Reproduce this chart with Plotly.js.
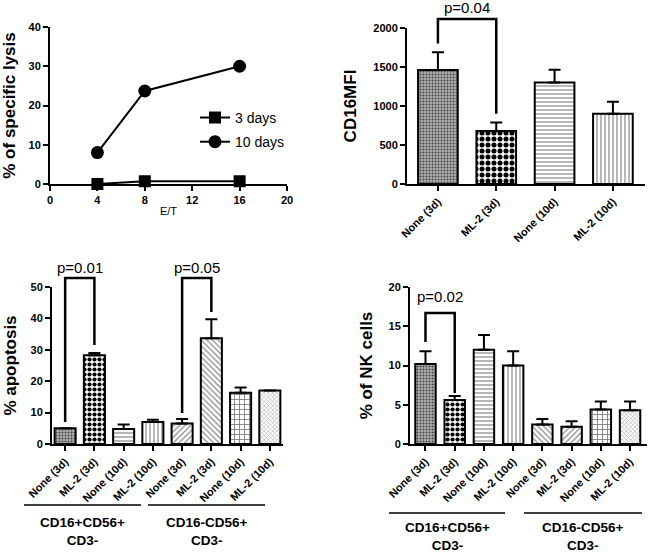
<!DOCTYPE html>
<html><head><meta charset="utf-8">
<script src="https://cdn.plot.ly/plotly-3.0.1.min.js"></script>
<style>html,body{margin:0;padding:0;background:#fff}#chart{width:650px;height:560px}</style>
</head><body><div id="chart"></div>
<script>
// ---- Data ----
const etRatio = [4, 8, 16];
const lysis3d = [0, 0.7, 0.7];
const lysis10d = [8, 23.7, 30];

const condLabels = ['None (3d)', 'ML-2 (3d)', 'None (10d)', 'ML-2 (10d)'];
const cd16Mfi = [1460, 680, 1300, 900];
const cd16MfiErr = [230, 110, 165, 155];

const condLabels8 = condLabels.concat(condLabels);
const apoptosis = [5, 28.3, 4.8, 7, 6.5, 33.7, 16.3, 17];
const apoptosisErr = [0, 0.7, 1.4, 0.7, 1.5, 6, 1.7, 0];

const nkCells = [10.2, 5.6, 12, 10, 2.5, 2.2, 4.4, 4.3];
const nkCellsErr = [1.6, 0.5, 1.9, 1.8, 0.7, 0.7, 1.0, 1.1];

const groupLabels = ['CD16+CD56+<br>CD3-', 'CD16-CD56+<br>CD3-'];

// ---- Styles ----
const FONT = 'Liberation Sans, Arial, sans-serif';
const tickFont = {family: FONT, size: 11, color: '#000', weight: 'bold'};
const titleFont = {family: FONT, size: 17, color: '#000', weight: 'bold'};
const idx4 = condLabels.map((_, i) => i);
const idx8 = condLabels8.map((_, i) => i);

const pat4 = {
  shape: ['.', '.', '-', '|'],
  fgcolor: ['#444', '#000', '#888', '#888'],
  bgcolor: ['#b0b0b0', '#fff', '#fff', '#fff'],
  size: [3, 6, 4, 4],
  solidity: [0.35, 0.55, 0.3, 0.3],
  fillmode: 'replace'
};
const pat8 = {
  shape: ['.', '.', '-', '|', '/', '\\', '+', 'x'],
  fgcolor: ['#444', '#000', '#888', '#888', '#888', '#888', '#777', '#999'],
  bgcolor: ['#b0b0b0', '#fff', '#fff', '#fff', '#fff', '#fff', '#fff', '#fff'],
  size: [3, 5, 4, 4, 4, 4, 5, 3],
  solidity: [0.35, 0.55, 0.3, 0.3, 0.3, 0.3, 0.3, 0.3],
  fillmode: 'replace'
};
const pat8d = JSON.parse(JSON.stringify(pat8));
pat8d.shape = ['.', '.', '-', '|', '\\', '/', '+', 'x'];

function errY(arr) {
  return {type: 'data', array: arr, arrayminus: arr.map(() => 0), symmetric: false,
          color: '#000', thickness: 2, width: 6};
}

const traces = [
  {x: etRatio, y: lysis3d, name: '3 days', legendgroup: 'a', mode: 'lines+markers', xaxis: 'x', yaxis: 'y',
   line: {color: '#000', width: 2}, marker: {symbol: 'square', size: 12, color: '#000'}, cliponaxis: false},
  {x: etRatio, y: lysis10d, name: '10 days', legendgroup: 'b', mode: 'lines+markers', xaxis: 'x', yaxis: 'y',
   line: {color: '#000', width: 2}, marker: {symbol: 'circle', size: 13, color: '#000'}, cliponaxis: false},
  {type: 'bar', x: idx4, y: cd16Mfi, xaxis: 'x2', yaxis: 'y2', width: 0.68, showlegend: false,
   marker: {color: '#fff', line: {color: '#000', width: 2}, pattern: pat4}, error_y: errY(cd16MfiErr)},
  {type: 'bar', x: idx8, y: apoptosis, xaxis: 'x3', yaxis: 'y3', width: 0.72, showlegend: false,
   marker: {color: '#fff', line: {color: '#000', width: 2}, pattern: pat8}, error_y: errY(apoptosisErr)},
  {type: 'bar', x: idx8, y: nkCells, xaxis: 'x4', yaxis: 'y4', width: 0.7, showlegend: false,
   marker: {color: '#fff', line: {color: '#000', width: 2}, pattern: pat8d}, error_y: errY(nkCellsErr)}
];

function ax(domain, range, extra) {
  return Object.assign({domain, range, showline: true, linecolor: '#000', linewidth: 2,
    ticks: 'outside', ticklen: 5, tickwidth: 2, tickcolor: '#000', showgrid: false, zeroline: false,
    tickfont: tickFont, fixedrange: true}, extra || {});
}

const W = 650, H = 560;
const layout = {
  width: W, height: H, margin: {l: 0, r: 0, t: 0, b: 0},
  paper_bgcolor: '#fff', plot_bgcolor: 'rgba(0,0,0,0)',
  font: {family: FONT, color: '#000'},
  showlegend: true,
  legend: {x: 0.3, y: 0.818, xanchor: 'left', yanchor: 'top', bgcolor: 'rgba(0,0,0,0)', traceorder: 'grouped',
           font: {family: FONT, size: 14, color: '#000'}, tracegroupgap: 3, itemwidth: 30},
  xaxis: ax([50 / W, 287 / W], [0, 20], {tickvals: [0, 4, 8, 12, 16, 20], anchor: 'y',
          title: {text: 'E/T', font: {family: FONT, size: 11, color: '#000'}, standoff: 2}}),
  yaxis: ax([1 - 184 / H, 1 - 27 / H], [0, 40], {tickvals: [0, 10, 20, 30, 40], anchor: 'x',
          title: {text: '% of specific lysis', font: titleFont, standoff: 10}}),
  xaxis2: ax([407 / W, 645 / W], [-0.53, 3.55], {tickvals: idx4, ticktext: condLabels, tickangle: -45, anchor: 'y2'}),
  yaxis2: ax([1 - 184 / H, 1 - 28 / H], [0, 2000], {tickvals: [0, 500, 1000, 1500, 2000], anchor: 'x2',
          title: {text: 'CD16MFI', font: titleFont, standoff: 12}}),
  xaxis3: ax([52 / W, 283 / W], [-0.45, 7.45], {tickvals: idx8, ticktext: condLabels8, tickangle: -45, anchor: 'y3'}),
  yaxis3: ax([1 - 444 / H, 1 - 287 / H], [0, 50], {tickvals: [0, 10, 20, 30, 40, 50], anchor: 'x3',
          title: {text: '% apoptosis', font: titleFont, standoff: 10}}),
  xaxis4: ax([410 / W, 647 / W], [-0.53, 7.58], {tickvals: idx8, ticktext: condLabels8, tickangle: -45, anchor: 'y4'}),
  yaxis4: ax([1 - 444 / H, 1 - 287 / H], [0, 20], {tickvals: [0, 5, 10, 15, 20], anchor: 'x4',
          title: {text: '% of NK cells', font: titleFont, standoff: 12}}),
  shapes: [], annotations: []
};

// helpers: convert data values on an axis to paper coordinates (brackets reach above the plot area)
function px(axName, v) { const a = layout[axName]; return a.domain[0] + (v - a.range[0]) / (a.range[1] - a.range[0]) * (a.domain[1] - a.domain[0]); }
function bracket(xa, ya, x0, x1, yTop, yL, yR, label, labelGapPx) {
  const X0 = px(xa, x0), X1 = px(xa, x1), T = px(ya, yTop), L = px(ya, yL), R = px(ya, yR);
  layout.shapes.push({type: 'path', xref: 'paper', yref: 'paper',
    path: `M${X0},${L} L${X0},${T} L${X1},${T} L${X1},${R}`,
    line: {color: '#000', width: 2.5}});
  layout.annotations.push({xref: 'paper', yref: 'paper', x: (X0 + X1) / 2, y: T + labelGapPx / H,
    text: label, showarrow: false, xanchor: 'center', yanchor: 'middle',
    font: {family: FONT, size: 15, color: '#000'}});
}
bracket('xaxis2', 'yaxis2', 0, 1, 2115, 1800, 900, 'p=0.04', 12);
bracket('xaxis3', 'yaxis3', 0, 1, 52.9, 7, 31.5, 'p=0.01', 10);
bracket('xaxis3', 'yaxis3', 4, 5, 52.9, 9.9, 42, 'p=0.05', 10);
bracket('xaxis4', 'yaxis4', 0, 1, 16.7, 13, 6.5, 'p=0.02', 16);

// group lines and labels under the category labels
function group(lineX0, lineX1, lineY, labelY, label) {
  layout.shapes.push({type: 'line', xref: 'paper', yref: 'paper',
    x0: lineX0 / W, x1: lineX1 / W, y0: 1 - lineY / H, y1: 1 - lineY / H, line: {color: '#000', width: 1.5}});
  layout.annotations.push({xref: 'paper', yref: 'paper', x: (lineX0 + lineX1) / 2 / W, y: 1 - labelY / H,
    text: label, showarrow: false, xanchor: 'center', yanchor: 'top', align: 'center',
    font: {family: FONT, size: 13.5, color: '#000', weight: 'bold'}});
}
group(24, 141, 505, 513, groupLabels[0]);
group(148, 265, 505, 513, groupLabels[1]);
group(389, 505, 513, 518, groupLabels[0]);
group(524, 642, 513, 518, groupLabels[1]);

Plotly.newPlot('chart', traces, layout, {displayModeBar: false, staticPlot: true});
</script>
</body></html>
